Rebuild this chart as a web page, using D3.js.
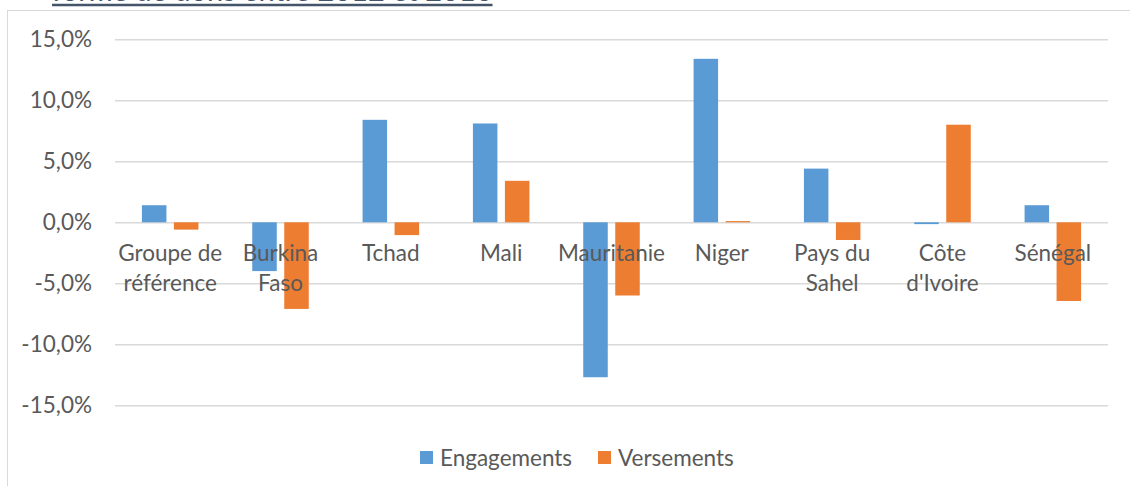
<!DOCTYPE html>
<html>
	<head>
		<title>Engagements et versements</title>

		<style>
			body
			{
				margin: 0;
				background: #ffffff;
			}

			svg
			{
				display: block;
				width: 1130px;
				height: 486px;
			}

			.gridLine
			{
				stroke: #d9d9d9;
				stroke-width: 1.5px;
			}

			.scaleText, .categoryText, .legendText
			{
				font-family: Lato, "Open Sans", sans-serif;
				font-size: 22.5px;
				fill: #595959;
			}

			.titleText
			{
				font-family: Lato, "Open Sans", sans-serif;
				font-size: 29px;
				fill: #44546a;
			}
		</style>

		<script src="https://d3js.org/d3.v7.min.js"></script>
	</head>

	<body>
		<svg></svg>

		<script>
			// data (percent)
			var categories = ["Groupe de référence", "Burkina Faso", "Tchad", "Mali", "Mauritanie", "Niger", "Pays du Sahel", "Côte d'Ivoire", "Sénégal"];
			var categoryLines = [["Groupe de", "référence"], ["Burkina", "Faso"], ["Tchad"], ["Mali"], ["Mauritanie"], ["Niger"], ["Pays du", "Sahel"], ["Côte", "d'Ivoire"], ["Sénégal"]];
			var seriesNames = ["Engagements", "Versements"];
			var engagements = [1.4, -4.0, 8.4, 8.1, -12.7, 13.4, 4.4, -0.15, 1.4];
			var versements = [-0.6, -7.1, -1.05, 3.4, -6.0, 0.1, -1.45, 8.0, -6.45];
			var yTicks = [-15, -10, -5, 0, 5, 10, 15];
			var colors = ["#5b9bd5", "#ed7d31"];
			var titleText = "forme de dons entre 2012 et 2016";

			var svg = d3.select("svg");

			var plotLeft = 115, plotRight = 1108, plotTop = 39.3, plotBottom = 405.3;

			// outer chart frame
			svg.append("rect")
				.attr("x", 7.5)
				.attr("y", 10.5)
				.attr("width", 1140)
				.attr("height", 500)
				.attr("fill", "none")
				.attr("stroke", "#d9d9d9")
				.attr("stroke-width", 1);

			// cut off title above the frame
			var title = svg.append("text")
				.attr("class", "titleText")
				.attr("x", 52)
				.attr("y", 1)
				.text(titleText);

			var titleWidth = title.node().getComputedTextLength();

			svg.append("line")
				.attr("x1", 52)
				.attr("x2", 52 + titleWidth)
				.attr("y1", 5)
				.attr("y2", 5)
				.attr("stroke", "#44546a")
				.attr("stroke-width", 2.5);

			var x = d3.scaleBand()
				.domain(categories)
				.range([plotLeft, plotRight]);

			var xSub = d3.scaleBand()
				.domain(seriesNames)
				.range([0, x.bandwidth()])
				.paddingInner(0.234)
				.paddingOuter(0.841);

			var y = d3.scaleLinear()
				.domain([-15, 15])
				.range([plotBottom, plotTop]);

			var yAxis = d3.axisLeft(y)
				.tickValues(yTicks)
				.tickSize(-(plotRight - plotLeft))
				.tickPadding(23)
				.tickFormat(function(d)
				{
					return d.toFixed(1).replace(".", ",") + "%";
				});

			var axisGroup = svg.append("g")
				.attr("transform", "translate(" + plotLeft + ",0)")
				.call(yAxis);

			axisGroup.attr("font-family", null).attr("font-size", null);
			axisGroup.select(".domain").remove();
			axisGroup.selectAll(".tick line").attr("class", "gridLine");
			axisGroup.selectAll(".tick text")
				.attr("class", "scaleText")
				.attr("fill", null)
				.attr("dy", "0.33em");

			// bars
			var seriesData = [engagements, versements];

			seriesData.forEach(function(values, s)
			{
				svg.append("g")
					.selectAll("rect")
					.data(values)
					.enter()
					.append("rect")
					.attr("x", function(d, i)
					{
						return x(categories[i]) + xSub(seriesNames[s]);
					})
					.attr("y", function(d)
					{
						return y(Math.max(0, d));
					})
					.attr("width", xSub.bandwidth())
					.attr("height", function(d)
					{
						return Math.abs(y(d) - y(0));
					})
					.attr("fill", colors[s]);
			});

			// category labels, drawn over the bars
			var labels = svg.append("g")
				.selectAll("text")
				.data(categories)
				.enter()
				.append("text")
				.attr("class", "categoryText")
				.attr("text-anchor", "middle")
				.attr("y", 260.7);

			labels.each(function(d, i)
			{
				var t = d3.select(this);
				categoryLines[i].forEach(function(line, j)
				{
					t.append("tspan")
						.attr("x", x(d) + x.bandwidth() / 2)
						.attr("dy", j === 0 ? 0 : 30)
						.text(line);
				});
			});

			// legend
			var legendX = [420, 598];

			seriesNames.forEach(function(name, s)
			{
				svg.append("rect")
					.attr("x", legendX[s])
					.attr("y", 451)
					.attr("width", 13)
					.attr("height", 13)
					.attr("fill", colors[s]);

				svg.append("text")
					.attr("class", "legendText")
					.attr("x", legendX[s] + 20)
					.attr("y", 465.5)
					.text(name);
			});
		</script>
	</body>
</html>
